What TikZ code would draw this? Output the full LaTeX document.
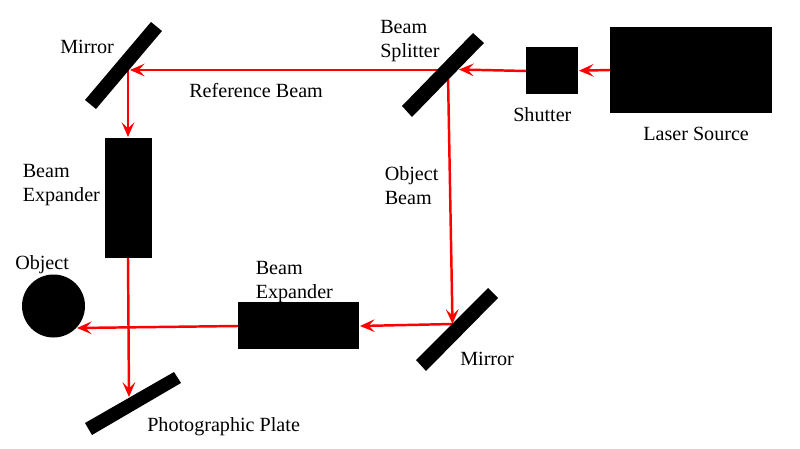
\documentclass[tikz,border=0pt]{standalone}
\usepackage{fontspec}
\setmainfont{Liberation Serif}
\usetikzlibrary{arrows.meta}
\tikzset{
 solidbox/.style={fill=black,draw=none,inner sep=0pt,outer sep=0pt,minimum width=#1},
 lab/.style={font=\fontsize{15.1}{18}\selectfont,inner sep=0pt,text=black,anchor=base west},
 beam/.style={draw=red,line width=1.85pt,-{Stealth[length=11pt,width=9.5pt,inset=4.5pt]}}
}
\begin{document}
\begin{tikzpicture}[x=0.75pt,y=-0.75pt]
\useasboundingbox (0,0) rectangle (800,449);
\fill[white] (0,0) rectangle (800,449);
% solid boxes
\node[solidbox=121.5pt,minimum height=64.5pt] (laser) at (691,70) {};
\node[solidbox=39pt,minimum height=35.25pt] (shutter) at (552,70.5) {};
\node[solidbox=35.25pt,minimum height=90pt] (expA) at (128.5,198) {};
\node[solidbox=90.75pt,minimum height=35.25pt] (expB) at (298.5,325.5) {};
\node[circle,fill=black,inner sep=0pt,outer sep=0pt,minimum size=47.25pt] (object) at (53.5,306) {};
% beam end points
\coordinate (laserL) at (laser.west);
\coordinate (shutR) at (579,70.7);
\coordinate (shutL) at (526,71);
\coordinate (splitR) at (459,69.5);
\coordinate (splitL) at (445,70);
\coordinate (splitB) at (448,75);
\coordinate (mirA) at (130,70);
\coordinate (mirAd) at (128,70);
\coordinate (expAt) at (128,137);
\coordinate (expAb) at (128,258);
\coordinate (plate) at (129,397);
\coordinate (mirB) at (452.5,324);
\coordinate (mirBl) at (453,324);
\coordinate (expBr) at (360,326);
\coordinate (expBl) at (238,326);
\coordinate (objE) at (77,328);
% beams
\draw[beam] (laserL) -- (shutR);
\draw[beam] (shutL) -- (splitR);
\draw[beam] (splitL) -- (mirA);
\draw[beam] (mirAd) -- (expAt);
\draw[beam] (expAb) -- (plate);
\draw[beam] (splitB) -- (mirB);
\draw[beam] (mirBl) -- (expBr);
\draw[beam] (expBl) -- (objE);
% tilted optical bars
\fill (85,100) -- (151,22) -- (162,31) -- (96,109) -- cycle;
\fill (402,106) -- (473,33) -- (484,43) -- (412,117) -- cycle;
\fill (416,360) -- (488,288) -- (498,298) -- (426,371) -- cycle;
\fill (85,423) -- (174,372) -- (181,383) -- (92,435) -- cycle;
% labels
\node[lab] (l1) at (60,54) {Mirror};
\node[lab] (l2) at (380,34) {Beam};
\node[lab] (l3) at (380,58) {Splitter};
\node[lab] (l4) at (189,98) {Reference Beam};
\node[lab] (l5) at (513,122) {Shutter};
\node[lab] (l6) at (643,141) {Laser Source};
\node[lab] (l7) at (22.5,178) {Beam};
\node[lab] (l8) at (22.5,202) {Expander};
\node[lab] (l9) at (384.5,181) {Object};
\node[lab] (l10) at (384.5,205) {Beam};
\node[lab] (l11) at (15,269) {Object};
\node[lab] (l12) at (255.5,274) {Beam};
\node[lab] (l13) at (255.5,298) {Expander};
\node[lab] (l14) at (460,365) {Mirror};
\node[lab] (l15) at (147,431) {Photographic Plate};
\end{tikzpicture}
\end{document}
